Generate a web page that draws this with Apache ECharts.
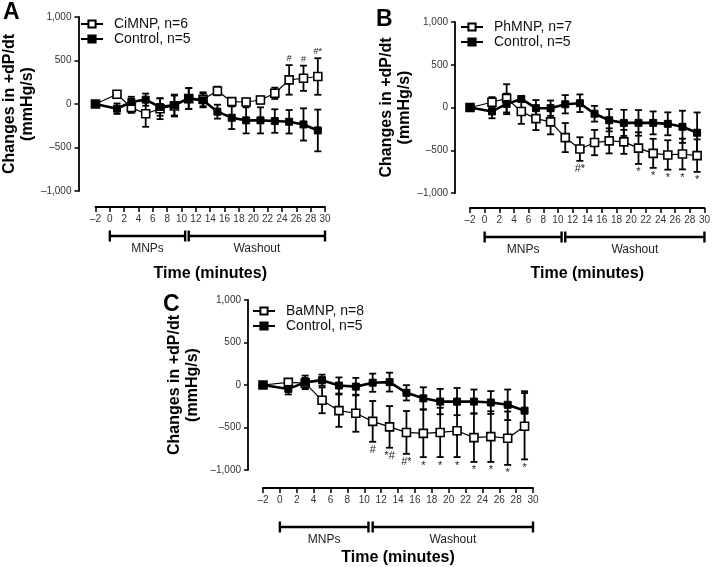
<!DOCTYPE html>
<html>
<head>
<meta charset="utf-8">
<script src="https://cdn.jsdelivr.net/npm/echarts@6/dist/echarts.min.js"></script>
<style>html,body{margin:0;padding:0;background:#fff}#c{width:713px;height:567px}</style>
</head>
<body>
<div id="c"></div>
<script>
// ---- data ----
const xTimes = [-2, 1, 3, 5, 7, 9, 11, 13, 15, 17, 19, 21, 23, 25, 27, 29];
const xTickLabels = [-2, 0, 2, 4, 6, 8, 10, 12, 14, 16, 18, 20, 22, 24, 26, 28, 30];
const yTickLabels = [-1000, -500, 0, 500, 1000];
const phases = [[0, 10.5, 'MNPs'], [11, 30, 'Washout']];

// Panel A
const ciMNP    = [0, 112, -42, -112, -54, -23, 62, 54, 150, 27, 23, 46, 123, 277, 296, 316];
const ciMNPErr = [0, 30, 60, 150, 120, 120, 120, 80, 50, 40, 40, 40, 65, 170, 145, 210];
const ctrlA    = [0, -54, 23, 50, -35, -12, 65, 42, -88, -158, -188, -188, -196, -204, -235, -304];
const ctrlAErr = [0, 60, 60, 70, 100, 120, 120, 80, 80, 130, 150, 150, 135, 135, 185, 240];
const annA = [[25, '#'], [27, '#'], [29, '#*']];

// Panel B
const phMNP    = [0, 61, 107, -46, -130, -168, -352, -486, -410, -390, -402, -475, -536, -555, -544, -563];
const phMNPErr = [0, 60, 165, 145, 134, 146, 170, 138, 148, 147, 140, 185, 170, 172, 180, 190];
const ctrlB    = [0, -46, 42, 100, -8, -8, 38, 50, -73, -149, -180, -180, -180, -191, -226, -295];
const ctrlBErr = [0, 80, 120, 30, 95, 90, 107, 103, 92, 130, 153, 150, 134, 134, 188, 237];
const annB = [[13, '#*'], [21, '*'], [23, '*'], [25, '*'], [27, '*'], [29, '*']];

// Panel C
const baMNP    = [0, 31, 23, -180, -302, -332, -428, -493, -558, -569, -558, -539, -619, -607, -626, -485];
const baMNPErr = [0, 40, 60, 152, 190, 218, 240, 245, 252, 280, 290, 309, 286, 298, 314, 390];
const ctrlC    = [0, -46, 31, 57, -6, -19, 27, 34, -92, -157, -195, -195, -195, -206, -233, -302];
const ctrlCErr = [0, 65, 80, 65, 95, 103, 107, 111, 90, 130, 149, 160, 142, 134, 180, 229];
const annC = [[11, '#'], [13, '*#'], [15, '#*'], [17, '*'], [19, '*'], [21, '*'], [23, '*'], [25, '*'], [27, '*'], [29, '*']];

// ---- layout ----
const FONT = 'Liberation Sans, Arial, Helvetica, sans-serif';
const panels = [
  { letter: 'A', treated: 'CiMNP, n=6', tv: ciMNP, te: ciMNPErr, cv: ctrlA, ce: ctrlAErr, ann: annA, annDir: 'above', annSize: 9,
    grid: { left: 89, top: 17, width: 236, height: 174 }, yOff: 17, xOff: 16, yGap: 34, brLine: 45, brText: 58, tGap: 59,
    legend: { left: 80, top: 17 }, title: { left: 3, top: 1 } },
  { letter: 'B', treated: 'PhMNP, n=7', tv: phMNP, te: phMNPErr, cv: ctrlB, ce: ctrlBErr, ann: annB, annDir: 'below', annSize: 11,
    grid: { left: 470, top: 22, width: 238, height: 171 }, yOff: 15, xOff: 15, yGap: 39, brLine: 44, brText: 57, tGap: 58,
    legend: { left: 460, top: 20 }, title: { left: 376, top: 8 } },
  { letter: 'C', treated: 'BaMNP, n=8', tv: baMNP, te: baMNPErr, cv: ctrlC, ce: ctrlCErr, ann: annC, annDir: 'below', annSize: 11,
    grid: { left: 263, top: 300, width: 270, height: 174 }, yOff: 15, xOff: 18, yGap: 46, brLine: 57, brText: 70, tGap: 62,
    legend: { left: 252, top: 304 }, title: { left: 163, top: 293 } }
];

function fmtNum(v) {
  const s = Math.abs(v).toLocaleString('en-US');
  return v < 0 ? '\u2013' + s : s;
}

function errRender(params, api) {
  const x = api.value(0), m = api.value(1), e = api.value(2);
  if (!e) return null;
  const hi = api.coord([x, m + e]), lo = api.coord([x, m - e]);
  const w = 3.5, st = { stroke: '#000', lineWidth: 1.8 };
  return { type: 'group', children: [
    { type: 'line', shape: { x1: hi[0], y1: hi[1], x2: lo[0], y2: lo[1] }, style: st },
    { type: 'line', shape: { x1: hi[0] - w, y1: hi[1], x2: hi[0] + w, y2: hi[1] }, style: st },
    { type: 'line', shape: { x1: lo[0] - w, y1: lo[1], x2: lo[0] + w, y2: lo[1] }, style: st }
  ] };
}

const option = {
  animation: false,
  backgroundColor: '#fff',
  textStyle: { fontFamily: FONT },
  title: [], legend: [], grid: [], xAxis: [], yAxis: [], series: []
};

panels.forEach((p, i) => {
  option.title.push({ text: p.letter, left: p.title.left, top: p.title.top, padding: 0,
    textStyle: { fontSize: 23, fontWeight: 'bold', color: '#000', fontFamily: FONT } });
  option.grid.push(Object.assign({ containLabel: false }, p.grid));
  option.legend.push({
    data: [p.treated, 'Control, n=5'], orient: 'vertical', left: p.legend.left, top: p.legend.top,
    padding: 0, itemGap: 1, itemWidth: 22, itemHeight: 9,
    textStyle: { fontSize: 14, color: '#111', fontFamily: FONT, padding: [0, 0, 0, 6] },
    selectedMode: false
  });
  option.xAxis.push({
    type: 'value', gridIndex: i, min: xTickLabels[0], max: xTickLabels[xTickLabels.length - 1], interval: 2,
    offset: p.xOff, position: 'bottom',
    axisLine: { show: true, onZero: false, lineStyle: { color: '#000', width: 1.8 } },
    axisTick: { show: true, length: 5, lineStyle: { color: '#000', width: 1.5 } },
    axisLabel: { fontSize: 10, color: '#333', margin: 7, formatter: fmtNum },
    splitLine: { show: false },
    name: 'Time (minutes)', nameLocation: 'middle', nameGap: p.tGap,
    nameTextStyle: { fontSize: 16, fontWeight: 'bold', color: '#000', fontFamily: FONT }
  });
  option.yAxis.push({
    type: 'value', gridIndex: i, min: yTickLabels[0], max: yTickLabels[yTickLabels.length - 1], interval: 500,
    offset: p.yOff, position: 'left',
    axisLine: { show: true, onZero: false, lineStyle: { color: '#000', width: 1.8 } },
    axisTick: { show: true, length: 4, lineStyle: { color: '#000', width: 1.5 } },
    axisLabel: { fontSize: 10, color: '#333', margin: 7, formatter: fmtNum },
    splitLine: { show: false },
    name: 'Changes in +dP/dt\n(mmHg/s)', nameLocation: 'middle', nameRotate: 90, nameGap: p.yGap,
    nameTextStyle: { fontSize: 16, fontWeight: 'bold', color: '#000', lineHeight: 18, fontFamily: FONT }
  });

  // error bars
  [[p.tv, p.te], [p.cv, p.ce]].forEach(([v, e]) => {
    option.series.push({
      type: 'custom', xAxisIndex: i, yAxisIndex: i, z: 1, clip: false, silent: true,
      renderItem: errRender,
      data: xTimes.map((t, k) => [t, v[k], e[k]])
    });
  });

  // treated line
  option.series.push({
    name: p.treated, type: 'line', xAxisIndex: i, yAxisIndex: i, z: 3,
    data: xTimes.map((t, k) => [t, p.tv[k]]),
    symbol: 'rect', symbolSize: 8,
    lineStyle: { color: '#000', width: 1.2 },
    itemStyle: { color: '#fff', borderColor: '#000', borderWidth: 1.6 }
  });
  // control line
  option.series.push({
    name: 'Control, n=5', type: 'line', xAxisIndex: i, yAxisIndex: i, z: 4,
    data: xTimes.map((t, k) => [t, p.cv[k]]),
    symbol: 'rect', symbolSize: 7,
    lineStyle: { color: '#000', width: 2.6 },
    itemStyle: { color: '#000', borderColor: '#000', borderWidth: 1 }
  });

  // significance annotations
  const annData = p.ann.map(([t]) => {
    const k = xTimes.indexOf(t);
    const y = p.annDir === 'above' ? p.tv[k] + p.te[k] : p.tv[k] - p.te[k];
    return [t, y];
  });
  option.series.push({
    type: 'custom', xAxisIndex: i, yAxisIndex: i, z: 5, clip: false, silent: true,
    data: annData,
    renderItem: (params, api) => {
      const pt = api.coord([api.value(0), api.value(1)]);
      const txt = p.ann[params.dataIndex][1];
      const above = p.annDir === 'above';
      return { type: 'text', x: pt[0], y: above ? pt[1] - 2 : pt[1] + 3,
        style: { text: txt, fontSize: p.annSize, fontFamily: FONT, fill: '#222',
          align: 'center', verticalAlign: above ? 'bottom' : 'top' } };
    }
  });

  // MNPs / Washout brackets
  option.series.push({
    type: 'custom', xAxisIndex: i, yAxisIndex: i, z: 5, clip: false, silent: true,
    data: phases.map(ph => [ph[0], ph[1]]),
    renderItem: (params, api) => {
      const a = api.coord([api.value(0), yTickLabels[0]]);
      const b = api.coord([api.value(1), yTickLabels[0]]);
      const y = a[1] + p.brLine, ty = a[1] + p.brText, h = 5.5;
      const st = { stroke: '#000', lineWidth: 2.4 };
      return { type: 'group', children: [
        { type: 'line', shape: { x1: a[0], y1: y, x2: b[0], y2: y }, style: st },
        { type: 'line', shape: { x1: a[0], y1: y - h, x2: a[0], y2: y + h }, style: st },
        { type: 'line', shape: { x1: b[0], y1: y - h, x2: b[0], y2: y + h }, style: st },
        { type: 'text', x: (a[0] + b[0]) / 2, y: ty,
          style: { text: phases[params.dataIndex][2], fontSize: 12, fontFamily: FONT, fill: '#222',
            align: 'center', verticalAlign: 'middle' } }
      ] };
    }
  });
});

const chart = echarts.init(document.getElementById('c'), null, { renderer: 'canvas' });
chart.setOption(option);
</script>
</body>
</html>
